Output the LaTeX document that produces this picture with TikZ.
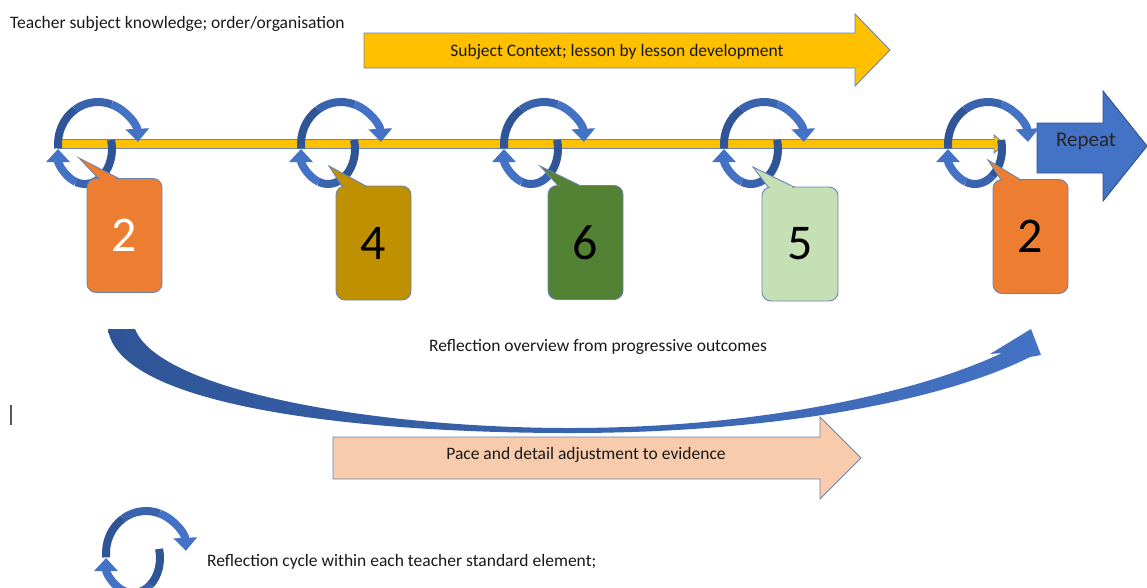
\documentclass[tikz,border=0pt]{standalone}
\usepackage{fontspec}
\setmainfont{Carlito}
\usetikzlibrary{arrows.meta}
\definecolor{yel}{HTML}{FFC000}
\definecolor{edge}{HTML}{6A85B0}
\definecolor{dblue}{HTML}{2F5597}
\definecolor{mblue}{HTML}{3A63AD}
\definecolor{lblue}{HTML}{4472C4}
\definecolor{bedge}{HTML}{2F528F}
\definecolor{orng}{HTML}{ED7D31}
\definecolor{gold}{HTML}{BF9000}
\definecolor{grn}{HTML}{548235}
\definecolor{lgrn}{HTML}{C5E0B4}
\definecolor{peach}{HTML}{F8CBAD}
\begin{document}
\begin{tikzpicture}[x=1pt,y=-1pt,
  lbl/.style={font=\fontsize{17.5}{20}\selectfont, inner sep=0pt, text=black!90},
  shapeedge/.style={draw=edge, line width=0.9pt, line join=miter},
  bubble/.style={draw=edge, line width=0.9pt, rounded corners=9pt, minimum width=75pt, minimum height=114pt, font=\fontsize{50}{50}\selectfont, inner sep=0pt},
  ptr/.style={draw=edge, line width=0.9pt, line join=miter},
  cyc/.pic={
    \begin{scope}[yscale=-1, line width=8pt]
      \draw[dblue] (186:40 and 42) arc[start angle=186, end angle=125, x radius=40, y radius=42];
      \draw[mblue] (125:40 and 42) arc[start angle=125, end angle=70, x radius=40, y radius=42];
      \draw[lblue, -{Triangle[width=23pt,length=13pt]}] (70:40 and 42) arc[start angle=70, end angle=3, x radius=40, y radius=42];
      \begin{scope}[shift={(-13,-5)}]
        \draw[dblue] (15:27 and 35) arc[start angle=15, end angle=-50, x radius=27, y radius=35];
        \draw[mblue] (-50:27 and 35) arc[start angle=-50, end angle=-110, x radius=27, y radius=35];
        \draw[lblue, -{Triangle[width=23pt,length=13pt]}] (-110:27 and 35) arc[start angle=-110, end angle=-180, x radius=27, y radius=35];
      \end{scope}
    \end{scope}
  }
]
\useasboundingbox (0,0) rectangle (1147,587);
\clip (0,0) rectangle (1147,587);
\fill[white] (0,0) rectangle (1147,587);

% top label and arrow
\node[lbl, anchor=west] (t1) at (10,23.5) {Teacher subject knowledge; order/organisation};
\filldraw[shapeedge, fill=yel] (364,33) -- (855,33) -- (855,14) -- (890,50) -- (855,86) -- (855,68) -- (364,68) -- cycle;
\node[lbl] (t2) at (617,51.5) {Subject Context; lesson by lesson development};

% timeline
\filldraw[shapeedge, fill=yel] (58,139.5) -- (994,139.5) -- (994,135) -- (1005,144) -- (994,153) -- (994,148.5) -- (58,148.5) -- cycle;

% repeat arrow
\filldraw[draw=bedge, line width=0.9pt, fill=lblue] (1037,123) -- (1103,123) -- (1103,91) -- (1147,146) -- (1103,201) -- (1103,173) -- (1037,173) -- cycle;
\node[font=\fontsize{21}{24}\selectfont, text=black!85] (rep) at (1086,141.5) {Repeat};

% cycles
\pic at (98,144) {cyc};
\pic at (341,144) {cyc};
\pic at (544,144) {cyc};
\pic at (764,144) {cyc};
\pic at (988,144) {cyc};

% callouts
\node[bubble, fill=orng, text=white] (b1) at (124.5,235.5) {2};
\coordinate (p1) at (79,158);
\filldraw[ptr, fill=orng] (98,178) -- (p1) -- (118,178) -- cycle;
\fill[orng] (99.5,177.2) rectangle (115.5,178.8);

\node[bubble, fill=gold, text=black] (b2) at (373.5,243) {4};
\coordinate (p2) at (329,166);
\filldraw[ptr, fill=gold] (342,186) -- (p2) -- (366,186) -- cycle;
\fill[gold] (343.5,185.2) rectangle (363.5,186.8);

\node[bubble, fill=grn, text=black] (b3) at (585.5,242.5) {6};
\coordinate (p3) at (540,166);
\filldraw[ptr, fill=grn] (558,185.5) -- (p3) -- (580,185.5) -- cycle;
\fill[grn] (559.5,184.7) rectangle (577.5,186.3);

\node[bubble, fill=lgrn, text=black, minimum width=76pt] (b4) at (800,244) {5};
\coordinate (p4) at (753,167);
\filldraw[ptr, fill=lgrn] (768,187) -- (p4) -- (794,187) -- cycle;
\fill[lgrn] (769.5,186.2) rectangle (791.5,187.8);

\node[bubble, fill=orng, text=black] (b5) at (1030.5,236.5) {2};
\coordinate (p5) at (988,160);
\filldraw[ptr, fill=orng] (1001,180) -- (p5) -- (1021,180) -- cycle;
\fill[orng] (1002.5,179.2) rectangle (1018.5,180.8);

% reflection overview curved arrow
\shade[left color=dblue, right color=lblue] (108,329) -- (135,329)
  .. controls (160,392) and (380,428) .. (570,428)
  .. controls (760,428) and (920,392) .. (1002,353)
  -- (990,354) -- (1031,329) -- (1041,355) -- (1030,357)
  .. controls (940,402) and (770,433) .. (570,433)
  .. controls (350,433) and (118,405) .. (108,329) -- cycle;
\node[lbl] (t3) at (598,346.5) {Reflection overview from progressive outcomes};

% cursor mark
\draw[black!65, line width=1.3pt] (11,405) -- (11,425);

% pace arrow
\filldraw[shapeedge, fill=peach] (333,437) -- (820,437) -- (820,417) -- (861,458) -- (820,499) -- (820,479) -- (333,479) -- cycle;
\node[lbl] (t4) at (586,454.5) {Pace and detail adjustment to evidence};

% legend
\pic at (146,553) {cyc};
\node[lbl, anchor=west] (t5) at (207,561.5) {Reflection cycle within each teacher standard element;};
\end{tikzpicture}
\end{document}
